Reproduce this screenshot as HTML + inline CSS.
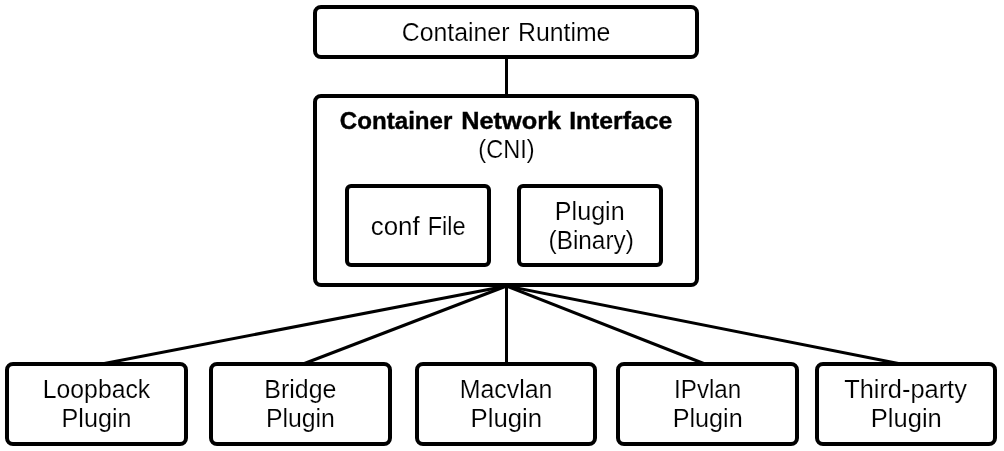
<!DOCTYPE html>
<html><head><meta charset="utf-8"><style>
html,body{margin:0;padding:0;background:#fff;width:1004px;height:451px;overflow:hidden}
svg{display:block;will-change:transform}
text{font-family:"Liberation Sans",sans-serif;fill:#000;stroke:#fff;stroke-width:0.15px}
</style></head><body>
<svg width="1004" height="451" viewBox="0 0 1004 451">
<line x1="506.5" y1="59" x2="506.5" y2="94" stroke="#000" stroke-width="3"/>
<line x1="506.5" y1="286" x2="96.5" y2="365" stroke="#000" stroke-width="3"/>
<line x1="506.5" y1="286" x2="300.5" y2="365" stroke="#000" stroke-width="3"/>
<line x1="506.5" y1="286" x2="506.5" y2="364" stroke="#000" stroke-width="3"/>
<line x1="506.5" y1="286" x2="707.5" y2="365" stroke="#000" stroke-width="3"/>
<line x1="506.5" y1="286" x2="906" y2="365" stroke="#000" stroke-width="3"/>
<rect x="315.0" y="7.0" width="382" height="50" rx="6" ry="6" fill="#fff" stroke="#000" stroke-width="4"/>
<rect x="315.0" y="96.0" width="382" height="189" rx="6" ry="6" fill="#fff" stroke="#000" stroke-width="4"/>
<rect x="347.0" y="186.0" width="142" height="79" rx="4" ry="4" fill="#fff" stroke="#000" stroke-width="4"/>
<rect x="519.0" y="186.0" width="142" height="79" rx="4" ry="4" fill="#fff" stroke="#000" stroke-width="4"/>
<rect x="7.0" y="364.0" width="179" height="80" rx="6" ry="6" fill="#fff" stroke="#000" stroke-width="4"/>
<rect x="211.0" y="364.0" width="179" height="80" rx="6" ry="6" fill="#fff" stroke="#000" stroke-width="4"/>
<rect x="417.0" y="364.0" width="178" height="80" rx="6" ry="6" fill="#fff" stroke="#000" stroke-width="4"/>
<rect x="618.0" y="364.0" width="179" height="80" rx="6" ry="6" fill="#fff" stroke="#000" stroke-width="4"/>
<rect x="817.0" y="364.0" width="178" height="80" rx="6" ry="6" fill="#fff" stroke="#000" stroke-width="4"/>
<text x="455.6" y="40.9" font-size="25" font-weight="400" text-anchor="middle" transform="translate(455.6 0) scale(0.9937 1) translate(-455.6 0)">Container</text>
<text x="564.2" y="40.9" font-size="25" font-weight="400" text-anchor="middle" transform="translate(564.2 0) scale(0.9934 1) translate(-564.2 0)">Runtime</text>
<text x="396.1" y="129.20000000000002" font-size="24.2" font-weight="700" text-anchor="middle" style="stroke:#000;stroke-width:0.4px" transform="translate(396.1 0) scale(0.997 1) translate(-396.1 0)">Container</text>
<text x="511.2" y="129.20000000000002" font-size="24.2" font-weight="700" text-anchor="middle" style="stroke:#000;stroke-width:0.4px" transform="translate(511.2 0) scale(1.0463 1) translate(-511.2 0)">Network</text>
<text x="620.7" y="129.20000000000002" font-size="24.2" font-weight="700" text-anchor="middle" style="stroke:#000;stroke-width:0.4px" transform="translate(620.7 0) scale(1.0223 1) translate(-620.7 0)">Interface</text>
<text x="506.45" y="158.20000000000002" font-size="25" font-weight="400" text-anchor="middle" transform="translate(506.45 0) scale(0.9412 1) translate(-506.45 0)">(CNI)</text>
<text x="395.2" y="234.6" font-size="25" font-weight="400" text-anchor="middle" transform="translate(395.2 0) scale(1.0376 1) translate(-395.2 0)">conf</text>
<text x="446.6" y="234.6" font-size="25" font-weight="400" text-anchor="middle" transform="translate(446.6 0) scale(0.9414 1) translate(-446.6 0)">File</text>
<text x="589.75" y="219.6" font-size="25" font-weight="400" text-anchor="middle" transform="translate(589.75 0) scale(1.0042 1) translate(-589.75 0)">Plugin</text>
<text x="591.2" y="248.8" font-size="25" font-weight="400" text-anchor="middle" transform="translate(591.2 0) scale(0.9753 1) translate(-591.2 0)">(Binary)</text>
<text x="96.5" y="397.9" font-size="25" font-weight="400" text-anchor="middle" transform="translate(96.5 0) scale(0.9899 1) translate(-96.5 0)">Loopback</text>
<text x="96.55" y="426.7" font-size="25" font-weight="400" text-anchor="middle" transform="translate(96.55 0) scale(1.0075 1) translate(-96.55 0)">Plugin</text>
<text x="300.4" y="397.9" font-size="25" font-weight="400" text-anchor="middle" transform="translate(300.4 0) scale(0.9987 1) translate(-300.4 0)">Bridge</text>
<text x="300.4" y="426.7" font-size="25" font-weight="400" text-anchor="middle" transform="translate(300.4 0) scale(0.9937 1) translate(-300.4 0)">Plugin</text>
<text x="506.1" y="397.9" font-size="25" font-weight="400" text-anchor="middle" transform="translate(506.1 0) scale(0.996 1) translate(-506.1 0)">Macvlan</text>
<text x="506.35" y="426.7" font-size="25" font-weight="400" text-anchor="middle" transform="translate(506.35 0) scale(1.0316 1) translate(-506.35 0)">Plugin</text>
<text x="707.65" y="397.9" font-size="25" font-weight="400" text-anchor="middle" transform="translate(707.65 0) scale(0.9662 1) translate(-707.65 0)">IPvlan</text>
<text x="707.7" y="426.7" font-size="25" font-weight="400" text-anchor="middle" transform="translate(707.7 0) scale(1.009 1) translate(-707.7 0)">Plugin</text>
<text x="905.5" y="397.9" font-size="25" font-weight="400" text-anchor="middle" transform="translate(905.5 0) scale(1.0156 1) translate(-905.5 0)">Third-party</text>
<text x="906.25" y="426.7" font-size="25" font-weight="400" text-anchor="middle" transform="translate(906.25 0) scale(1.0233 1) translate(-906.25 0)">Plugin</text>
</svg>
</body></html>
